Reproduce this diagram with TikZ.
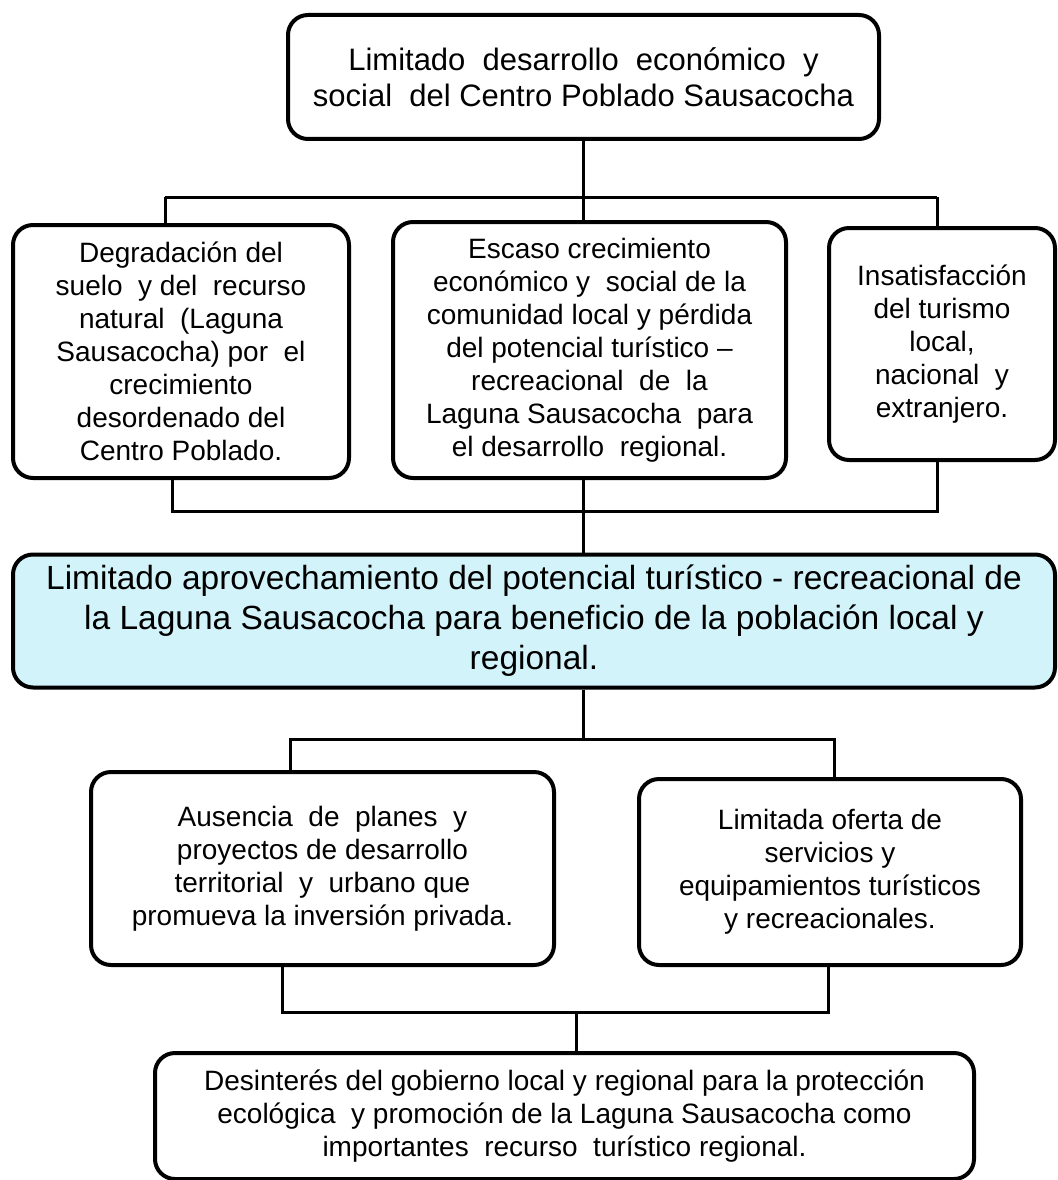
\documentclass[tikz,border=0pt]{standalone}
\usepackage{fontspec}
\setmainfont{Liberation Sans}
\definecolor{celeste}{RGB}{210,243,250}
\tikzset{
  caja/.style={draw, line width=4pt, rounded corners=20pt, align=center, inner sep=0pt},
  cajachica/.style={caja, font=\fontsize{28}{33}\selectfont},
  linea/.style={line width=3pt}
}
\begin{document}
\begin{tikzpicture}[x=1pt, y=-1pt]
  \useasboundingbox (0, 0) rectangle (1057, 1180);
  % efecto final
  \node[caja, minimum width=591pt, minimum height=124pt, font=\fontsize{31}{36}\selectfont] at (583.5, 77) (efecto)
    {Limitado\ \ desarrollo\ \ económico\ \ y\\social\ \ del Centro Poblado Sausacocha};
  % efectos
  \node[cajachica, minimum width=336pt, minimum height=253pt] at (181, 351.5) (e1)
    {Degradación del\\suelo\ \ y\ del\ \ recurso\\natural\ \ (Laguna\\Sausacocha) por\ \ el\\crecimiento\\desordenado del\\Centro Poblado.};
  \node[cajachica, minimum width=393pt, minimum height=256pt] at (589.5, 350) (e2)
    {Escaso crecimiento\\económico y\ \ social de la\\comunidad local y pérdida\\del potencial turístico --\\recreacional\ \ de\ \ la\\Laguna Sausacocha\ \ para\\el desarrollo\ \ regional.};
  \node[cajachica, minimum width=226pt, minimum height=232pt] at (942, 344) (e3)
    {Insatisfacción\\del turismo\\local,\\nacional\ \ y\\extranjero.};
  % problema central
  \node[caja, fill=celeste, minimum width=1042pt, minimum height=133pt, font=\fontsize{33.5}{40}\selectfont] at (534, 621) (problema)
    {Limitado aprovechamiento del potencial turístico - recreacional de\\la Laguna Sausacocha para beneficio de la población local y\\regional.};
  % causas
  \node[cajachica, minimum width=463pt, minimum height=193pt] at (322.5, 868.5) (c1)
    {Ausencia\ \ de\ \ planes\ \ y\\proyectos de desarrollo\\territorial\ \ y\ \ urbano que\\promueva la inversión privada.};
  \node[cajachica, minimum width=382pt, minimum height=186pt] at (830, 872) (c2)
    {Limitada oferta de\\servicios y\\equipamientos turísticos\\y recreacionales.};
  \node[cajachica, minimum width=819pt, minimum height=126pt] at (564.5, 1116) (raiz)
    {Desinterés del gobierno local y regional para la protección\\ecológica\ \ y promoción de la Laguna Sausacocha como\\importantes\ \ recurso\ \ turístico regional.};
  % conectores
  \coordinate (b1) at (583, 197);
  \coordinate (b1l) at (165, 197);
  \coordinate (b1r) at (937, 197);
  \coordinate (b2) at (583, 511);
  \coordinate (b2l) at (172, 511);
  \coordinate (b2r) at (937, 511);
  \coordinate (b3) at (583, 739);
  \coordinate (b3l) at (290, 739);
  \coordinate (b3r) at (834, 739);
  \coordinate (b4) at (576, 1012);
  \coordinate (b4l) at (282, 1012);
  \coordinate (b4r) at (828, 1012);
  \draw[linea] (efecto.south -| b1) -- (b1);
  \draw[linea] (b1l) -- (b1r);
  \draw[linea] (b1l) -- (b1l |- e1.north);
  \draw[linea] (b1) -- (b1 |- e2.north);
  \draw[linea] (b1r) -- (b1r |- e3.north);
  \draw[linea] (b2l |- e1.south) -- (b2l) -- (b2r) -- (b2r |- e3.south);
  \draw[linea] (b2 |- e2.south) -- (b2) -- (b2 |- problema.north);
  \draw[linea] (problema.south -| b3) -- (b3);
  \draw[linea] (b3l |- c1.north) -- (b3l) -- (b3r) -- (b3r |- c2.north);
  \draw[linea] (b4l |- c1.south) -- (b4l) -- (b4r) -- (b4r |- c2.south);
  \draw[linea] (b4) -- (b4 |- raiz.north);
\end{tikzpicture}
\end{document}
